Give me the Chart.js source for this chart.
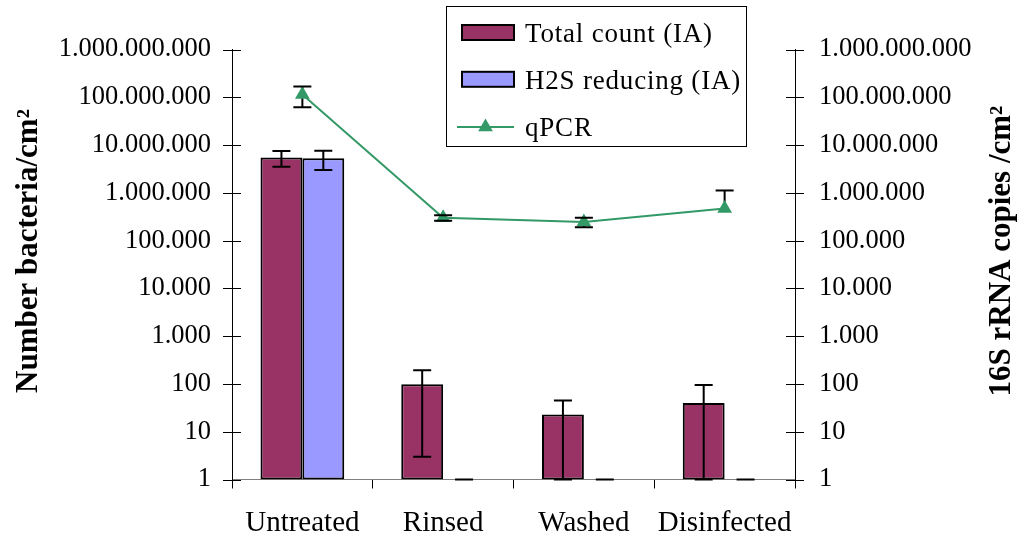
<!DOCTYPE html>
<html>
<head>
<meta charset="utf-8">
<style>
  html, body { margin: 0; padding: 0; background: #ffffff; }
  #wrap { width: 1021px; height: 540px; }
</style>
<script src="https://cdn.jsdelivr.net/npm/chart.js@4.4.1/dist/chart.umd.min.js"></script>
</head>
<body>
<div id="wrap"><canvas id="c" width="1021" height="540"></canvas></div>
<script>
// Treatment stages
const categories = ['Untreated', 'Rinsed', 'Washed', 'Disinfected'];

// Image analysis counts (bacteria per cm2) with symmetric errors
const totalCount = [5.5e6, 98, 23, 40];
const totalErr = [2.0e6, 95, 22, 55];
const h2sReducing = [5.3e6, 0, 0, 0];
const h2sErr = [2.3e6, 0, 0, 0];

// qPCR, 16S rRNA copies per cm2 (null = no bar drawn on that side)
const qpcr = [1.15e8, 3.0e5, 2.45e5, 4.7e5];
const qpcrErrPlus = [5.3e7, 0.4e5, 0.55e5, 6.5e5];
const qpcrErrMinus = [5.3e7, 0.4e5, 0.55e5, null];

// Axis ticks
const tickValues = [1, 10, 100, 1e3, 1e4, 1e5, 1e6, 1e7, 1e8, 1e9];
const tickLabels = ['1', '10', '100', '1.000', '10.000', '100.000', '1.000.000',
                    '10.000.000', '100.000.000', '1.000.000.000'];

const leftTitle = 'Number bacteria/cm\u00B2';
const rightTitle = '16S rRNA copies /cm\u00B2';

const SERIF = '"Liberation Serif", "Times New Roman", serif';
const MAROON = '#993366';
const LAVENDER = '#9999FF';
const GREEN = '#339966';

// Error bars: verticals of line series go under the markers, caps on top
const errorBars = {
  id: 'errorBars',
  _draw(chart, index, withStem, withCaps) {
    const ds = chart.data.datasets[index];
    if (!ds.errPlus) return;
    const meta = chart.getDatasetMeta(index);
    const scale = meta.vScale;
    const ctx = chart.ctx;
    ctx.save();
    ctx.strokeStyle = '#000';
    ctx.lineWidth = 2;
    meta.data.forEach((el, i) => {
      const v = ds.data[i];
      const up = ds.errPlus[i];
      const dn = ds.errMinus[i];
      const yv = scale.getPixelForValue(v);
      const yTop = up == null ? null : scale.getPixelForValue(v + up);
      const yBot = dn == null ? null :
        (v - dn <= scale.min ? scale.bottom : scale.getPixelForValue(v - dn));
      const x = el.x;
      ctx.beginPath();
      if (withStem) {
        if (yTop != null) { ctx.moveTo(x, yv); ctx.lineTo(x, yTop); }
        if (yBot != null) { ctx.moveTo(x, yv); ctx.lineTo(x, yBot); }
      }
      if (withCaps) {
        if (yTop != null) { ctx.moveTo(x - 9, yTop); ctx.lineTo(x + 9, yTop); }
        if (yBot != null) { ctx.moveTo(x - 9, yBot); ctx.lineTo(x + 9, yBot); }
      }
      ctx.stroke();
    });
    ctx.restore();
  },
  beforeDatasetDraw(chart, args) {
    const ds = chart.data.datasets[args.index];
    if (ds.type === 'line') this._draw(chart, args.index, true, false);
  },
  afterDatasetDraw(chart, args) {
    const ds = chart.data.datasets[args.index];
    if (ds.type === 'line') this._draw(chart, args.index, false, true);
    else this._draw(chart, args.index, true, true);
  }
};

// Tick marks crossing both vertical axes, and the rotated axis titles
const axisDecor = {
  id: 'axisDecor',
  afterDraw(chart) {
    const ctx = chart.ctx;
    ctx.save();
    ctx.strokeStyle = '#000';
    ctx.lineWidth = 1;
    ['y', 'y2'].forEach(id => {
      const s = chart.scales[id];
      const ax = id === 'y' ? s.right : s.left;
      ctx.beginPath();
      tickValues.forEach(v => {
        const py = Math.round(s.getPixelForValue(v)) + 0.5;
        ctx.moveTo(ax - 9, py);
        ctx.lineTo(ax + 9, py);
      });
      ctx.stroke();
    });
    ctx.restore();
    [[leftTitle, 37], [rightTitle, 1010]].forEach(([text, x]) => {
      ctx.save();
      ctx.fillStyle = '#000';
      ctx.font = 'bold 31px ' + SERIF;
      ctx.textAlign = 'center';
      ctx.textBaseline = 'alphabetic';
      ctx.translate(x, 251);
      ctx.rotate(-Math.PI / 2);
      ctx.fillText(text, 0, 0);
      ctx.restore();
    });
  }
};

// Boxed legend placed over the upper part of the plot
const boxLegend = {
  id: 'boxLegend',
  afterDraw(chart) {
    const ctx = chart.ctx;
    ctx.save();
    ctx.fillStyle = '#fff';
    ctx.fillRect(446, 6, 300, 141);
    ctx.strokeStyle = '#000';
    ctx.lineWidth = 1;
    ctx.strokeRect(446.5, 6.5, 300, 140);
    ctx.font = '27px ' + SERIF;
    ctx.textAlign = 'left';
    ctx.textBaseline = 'alphabetic';
    if ('letterSpacing' in ctx) ctx.letterSpacing = '0.8px';
    chart.data.datasets.forEach((ds, i) => {
      const base = 42 + 46.8 * i;
      const cy = base - 9.5;
      if (ds.type === 'line') {
        ctx.strokeStyle = ds.borderColor;
        ctx.lineWidth = 2;
        ctx.beginPath();
        ctx.moveTo(457, cy + 1);
        ctx.lineTo(514, cy + 1);
        ctx.stroke();
        ctx.fillStyle = ds.pointBackgroundColor;
        Chart.helpers.drawPoint(ctx, { pointStyle: 'triangle', radius: ds.pointRadius, rotation: 0, borderWidth: 0 }, 485.5, cy + 1);
      } else {
        ctx.fillStyle = ds.backgroundColor;
        ctx.fillRect(462, cy - 7.5, 52, 15);
        ctx.strokeStyle = '#000';
        ctx.lineWidth = 2;
        ctx.strokeRect(462, cy - 7.5, 52, 15);
      }
      ctx.fillStyle = '#000';
      ctx.fillText(ds.label, 525, base);
    });
    ctx.restore();
  }
};

const yAxisCommon = {
  type: 'logarithmic',
  min: 1,
  max: 1e9,
  grid: { display: false, drawTicks: false },
  border: { display: true, color: '#000', width: 1 },
  afterBuildTicks: s => { s.ticks = tickValues.map(v => ({ value: v })); },
  ticks: {
    autoSkip: false,
    color: '#000',
    font: { family: SERIF, size: 26.5 },
    callback: (val, idx) => tickLabels[idx]
  }
};

new Chart(document.getElementById('c'), {
  data: {
    labels: categories,
    datasets: [
      {
        type: 'bar',
        label: 'Total count (IA)',
        data: totalCount,
        errPlus: totalErr,
        errMinus: totalErr,
        backgroundColor: MAROON,
        borderColor: '#000',
        borderWidth: 2,
        borderSkipped: false,
        yAxisID: 'y',
        order: 1,
        categoryPercentage: 0.595,
        barPercentage: 1.0
      },
      {
        type: 'bar',
        label: 'H2S reducing (IA)',
        data: h2sReducing,
        errPlus: h2sErr,
        errMinus: h2sErr,
        backgroundColor: LAVENDER,
        borderColor: '#000',
        borderWidth: 2,
        borderSkipped: false,
        yAxisID: 'y',
        order: 1,
        categoryPercentage: 0.595,
        barPercentage: 1.0
      },
      {
        type: 'line',
        label: 'qPCR',
        data: qpcr,
        errPlus: qpcrErrPlus,
        errMinus: qpcrErrMinus,
        borderColor: GREEN,
        borderWidth: 2,
        pointStyle: 'triangle',
        pointRadius: 8.5,
        pointBackgroundColor: GREEN,
        pointBorderColor: GREEN,
        pointBorderWidth: 0,
        tension: 0,
        yAxisID: 'y2',
        order: 0
      }
    ]
  },
  options: {
    responsive: false,
    animation: false,
    devicePixelRatio: 1,
    layout: { padding: { top: 49.5, left: 0, right: 0, bottom: 0 } },
    plugins: { legend: { display: false }, tooltip: { enabled: false } },
    scales: {
      x: {
        type: 'category',
        offset: true,
        grid: { display: true, offset: true, drawOnChartArea: false, drawTicks: true, tickLength: 9, color: '#000', lineWidth: 1 },
        border: { display: true, color: '#808080', width: 1 },
        ticks: { color: '#000', padding: 17, font: { family: SERIF, size: 29 } },
        afterFit: s => { s.height = 60.5; }
      },
      y: Object.assign({}, yAxisCommon, {
        position: 'left',
        ticks: Object.assign({}, yAxisCommon.ticks, { padding: 21 }),
        afterFit: s => { s.width = 232; }
      }),
      y2: Object.assign({}, yAxisCommon, {
        position: 'right',
        ticks: Object.assign({}, yAxisCommon.ticks, { padding: 24 }),
        afterFit: s => { s.width = 226; }
      })
    }
  },
  plugins: [errorBars, axisDecor, boxLegend]
});
</script>
</body>
</html>
